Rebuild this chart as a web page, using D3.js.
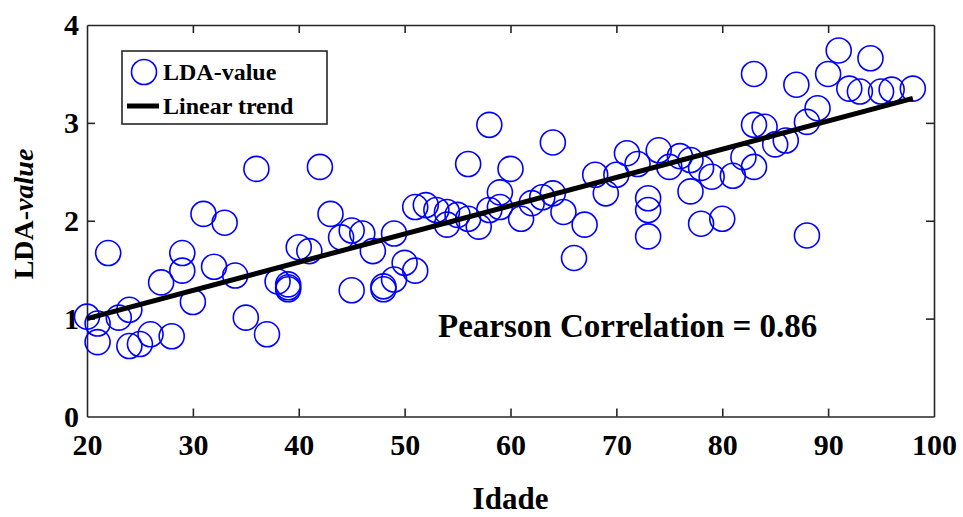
<!DOCTYPE html>
<html>
<head>
<meta charset="utf-8">
<script src="https://cdn.jsdelivr.net/npm/d3@7/dist/d3.min.js"></script>
<style>
  html, body { margin: 0; padding: 0; background: #fff; }
  svg { display: block; }
  text { font-family: "Liberation Serif", "Times New Roman", serif; font-weight: bold; fill: #000; }
</style>
</head>
<body>
<svg id="chart" width="963" height="517"></svg>
<script>
// Age of each subject (years)
const ages = [
  20, 21, 21, 22, 23, 24, 24, 25, 26, 27, 28, 29, 29, 30, 31, 32, 33, 34, 35, 36,
  37, 38, 39, 39, 39, 40, 41, 42, 43, 44, 45, 45, 46, 47, 48, 48, 49, 49, 50, 51,
  51, 52, 53, 54, 54, 55, 56, 56, 57, 58, 58, 59, 59, 60, 61, 62, 63, 64, 64, 65,
  66, 67, 68, 69, 70, 71, 72, 73, 73, 73, 74, 75, 76, 77, 77, 78, 78, 79, 80, 81,
  82, 83, 83, 83, 84, 85, 86, 87, 88, 88, 89, 90, 91, 92, 93, 94, 95, 96, 98
];
// LDA value of each subject
const ldaValues = [
  1.02, 0.95, 0.76, 1.67, 1.01, 1.09, 0.72, 0.74, 0.84, 1.37, 0.82, 1.67, 1.49, 1.17, 2.07, 1.53, 1.98, 1.44, 1.01, 2.53,
  0.84, 1.38, 1.35, 1.30, 1.32, 1.73, 1.69, 2.55, 2.07, 1.83, 1.90, 1.29, 1.87, 1.69, 1.33, 1.30, 1.40, 1.87, 1.57, 1.49,
  2.14, 2.16, 2.11, 2.09, 1.96, 2.06, 2.02, 2.58, 1.94, 2.11, 2.98, 2.29, 2.14, 2.53, 2.02, 2.18, 2.24, 2.28, 2.80, 2.09,
  1.62, 1.96, 2.47, 2.28, 2.47, 2.69, 2.58, 2.23, 2.11, 1.84, 2.72, 2.55, 2.66, 2.30, 2.62, 1.97, 2.54, 2.45, 2.02, 2.46,
  2.65, 2.55, 2.98, 3.50, 2.96, 2.78, 2.82, 3.39, 3.01, 1.85, 3.15, 3.50, 3.74, 3.35, 3.32, 3.66, 3.32, 3.34, 3.35
];
// Fitted linear trend: endpoints (age, value)
const trendAges = [20, 98];
const trendValues = [1.0, 3.25];

const xTicks = [20, 30, 40, 50, 60, 70, 80, 90, 100];
const yTicks = [0, 1, 2, 3, 4];

const legendLabels = ["LDA-value", "Linear trend"];
const xLabel = "Idade";
const correlationText = "Pearson Correlation = 0.86";

const svg = d3.select("#chart");
const plot = { left: 87, right: 934, top: 25, bottom: 416.5 };

const x = d3.scaleLinear().domain([20, 100]).range([plot.left, plot.right]);
const y = d3.scaleLinear().domain([0, 4]).range([plot.bottom, plot.top]);

const axisColor = "#262626";
const tickLen = 8;
const fmt = d3.format("d");

// Axes box with inward ticks on all four sides
const gx = svg.append("g").attr("transform", `translate(0,${plot.bottom})`)
  .call(d3.axisBottom(x).tickValues(xTicks).tickFormat(fmt).tickSizeInner(-tickLen).tickSizeOuter(0).tickPadding(17));
const gxTop = svg.append("g").attr("transform", `translate(0,${plot.top})`)
  .call(d3.axisTop(x).tickValues(xTicks).tickSizeInner(-tickLen).tickSizeOuter(0).tickFormat(""));
const gy = svg.append("g").attr("transform", `translate(${plot.left},0)`)
  .call(d3.axisLeft(y).tickValues(yTicks).tickFormat(fmt).tickSizeInner(-tickLen).tickSizeOuter(0).tickPadding(8));
const gyRight = svg.append("g").attr("transform", `translate(${plot.right},0)`)
  .call(d3.axisRight(y).tickValues(yTicks).tickSizeInner(-tickLen).tickSizeOuter(0).tickFormat(""));

[gx, gxTop, gy, gyRight].forEach(g => {
  g.select(".domain").attr("stroke", axisColor).attr("stroke-width", 1.6);
  g.selectAll(".tick line").attr("stroke", axisColor).attr("stroke-width", 1.6);
});
// Hide tick marks that sit on the box corners
gx.selectAll(".tick line").filter(d => d === 20 || d === 100).remove();
gxTop.selectAll(".tick line").filter(d => d === 20 || d === 100).remove();
gy.selectAll(".tick line").filter(d => d === 0 || d === 4).remove();
gyRight.selectAll(".tick line").filter(d => d === 0 || d === 4).remove();

[gx, gy].forEach(g => g.selectAll(".tick text")
  .attr("font-family", "Liberation Serif, Times New Roman, serif")
  .attr("font-weight", "bold").attr("font-size", 30).attr("fill", "#000"));

// Scatter points
const points = ages.map((a, i) => ({ age: a, value: ldaValues[i] }));
svg.append("g").selectAll("circle").data(points).join("circle")
  .attr("cx", d => x(d.age))
  .attr("cy", d => y(d.value))
  .attr("r", 12.5)
  .attr("fill", "none")
  .attr("stroke", "#0000ff")
  .attr("stroke-width", 1.6);

// Linear trend
const trend = trendAges.map((a, i) => [a, trendValues[i]]);
svg.append("path")
  .datum(trend)
  .attr("d", d3.line().x(d => x(d[0])).y(d => y(d[1])))
  .attr("stroke", "#000")
  .attr("stroke-width", 5)
  .attr("fill", "none");

// Legend
const lg = svg.append("g");
lg.append("rect").attr("x", 122).attr("y", 51).attr("width", 205).attr("height", 73)
  .attr("fill", "#fff").attr("stroke", axisColor).attr("stroke-width", 1.6);
lg.append("circle").attr("cx", 144).attr("cy", 72).attr("r", 12.5)
  .attr("fill", "none").attr("stroke", "#0000ff").attr("stroke-width", 1.6);
lg.append("line").attr("x1", 127).attr("x2", 159).attr("y1", 106).attr("y2", 106)
  .attr("stroke", "#000").attr("stroke-width", 5);
lg.append("text").attr("x", 163).attr("y", 80).attr("font-size", 24).text(legendLabels[0]);
lg.append("text").attr("x", 163).attr("y", 114).attr("font-size", 24).text(legendLabels[1]);

// Correlation annotation
svg.append("text").attr("x", 438).attr("y", 337).attr("font-size", 33).text(correlationText);

// Axis titles
svg.append("text").attr("x", (plot.left + plot.right) / 2).attr("y", 509)
  .attr("text-anchor", "middle").attr("font-size", 31).text(xLabel);

const yl = svg.append("text")
  .attr("transform", "translate(33,214) rotate(-90)")
  .attr("text-anchor", "middle").attr("font-size", 28);
yl.append("tspan").text("LDA-");
yl.append("tspan").attr("font-style", "italic").text("value");
</script>
</body>
</html>
